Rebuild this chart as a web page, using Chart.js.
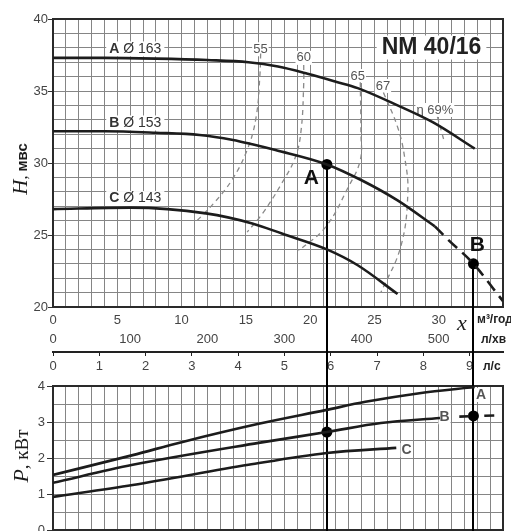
<!DOCTYPE html>
<html><head><meta charset="utf-8">
<script src="https://cdn.jsdelivr.net/npm/chart.js@4/dist/chart.umd.min.js"></script>
<style>
html,body{margin:0;padding:0;background:#fff;}
#wrap{position:relative;width:511px;height:531px;overflow:hidden;background:#fff;}
#c1{position:absolute;left:0;top:0;width:511px;height:380px;}
#c2{position:absolute;left:0;top:370px;width:511px;height:170px;}
</style></head><body>
<div id="wrap"><canvas id="c1" width="511" height="380"></canvas><canvas id="c2" width="511" height="170"></canvas></div>
<script>
// ---------------- DATA ----------------
// Flow in m³/h, head in m (мвс), power in kW
const flowA = [0, 4, 8, 12, 15.2, 17.5, 19.8, 22, 23.7, 26.8, 29.6, 32.8];
const headA = [37.3, 37.3, 37.25, 37.15, 37.0, 36.7, 36.2, 35.65, 35.2, 34.0, 32.8, 31.0];
const flowB = [0, 4, 8, 11.4, 14, 15.5, 17.3, 21.3, 24, 26.8, 29.7];
const headB = [32.2, 32.2, 32.1, 31.95, 31.6, 31.3, 30.9, 29.9, 28.8, 27.4, 25.6];
const flowBext = [29.7, 30.7, 32.7, 35];
const headBext = [25.6, 24.7, 23.0, 20.4];
const flowC = [0, 6, 11.9, 15.5, 17.8, 21.3, 23.7, 26.8];
const headC = [26.8, 26.9, 26.5, 25.8, 25.1, 24.0, 22.9, 20.9];

const effLevels = ['55', '60', '65', '67', 'η 69%'];
const eff55Q = [16.15, 16.1, 15.8, 15.1, 13.9, 12.5, 11.1];
const eff55H = [37.6, 36.2, 33.2, 30.9, 28.8, 27.2, 25.9];
const eff60Q = [19.5, 19.5, 19.3, 18.85, 17.8, 16.3, 15.1];
const eff60H = [36.8, 35.5, 32.3, 30.4, 28.6, 26.5, 25.2];
const eff65Q = [23.9, 23.95, 23.9, 22.95, 21.2, 19.1];
const eff65H = [35.6, 32.1, 30.2, 28.3, 25.55, 23.9];
const eff67Q = [25.7, 26.8, 27.35, 27.6, 27.05, 25.5];
const eff67H = [34.9, 32.5, 30.4, 27.9, 24.2, 21.0];
const eff69Q = [29.9, 30.4];
const eff69H = [33.2, 31.6];

const powerAQ = [0, 6.2, 10, 16, 21.2, 24.3, 28.5, 32.8];
const powerA  = [1.53, 2.08, 2.44, 2.95, 3.33, 3.56, 3.8, 3.97];
const powerBQ = [0, 6.2, 16, 21.3, 25.5, 30.1];
const powerB  = [1.31, 1.81, 2.42, 2.72, 2.97, 3.11];
const powerBextQ = [31.6, 35];
const powerBext  = [3.15, 3.19];
const powerCQ = [0, 6.2, 15.2, 21.3, 26.7];
const powerC  = [0.92, 1.25, 1.81, 2.14, 2.28];

// operating points A and B
const opNames = ['A', 'B'];
const opQ = [21.3, 32.7];
const opH = [29.9, 23.0];
const opP = [2.72, 3.17];

const curveNames = ['A', 'B', 'C'];
const curveDiam = ['Ø 163', 'Ø 153', 'Ø 143'];
const pumpTitle = 'NM 40/16';

// tick labels
const flowTicks = [0, 5, 10, 15, 20, 25, 30];
const lpmTicks = [0, 100, 200, 300, 400, 500];
const lpsTicks = [0, 1, 2, 3, 4, 5, 6, 7, 8, 9];
const headTicks = [20, 25, 30, 35, 40];
const powerTicks = [0, 1, 2, 3, 4];

// ---------------- helpers ----------------
const FLOW_MAX = 35;
const pts = (xs, ys) => xs.map((x, i) => ({x, y: ys[i]}));
const range = (a, b, s) => { const r = []; for (let v = a; v <= b + 1e-9; v += s) r.push(+v.toFixed(3)); return r; };
const SANS = "'Liberation Sans', Arial, sans-serif";
const SERIF = "'Liberation Serif', 'Times New Roman', serif";
const GRID = '#858585';
const INK = '#1c1c1c';
const TICKC = '#444';

function curve(data, extra) {
  return Object.assign({data, borderColor: INK, borderWidth: 2.6, cubicInterpolationMode: 'monotone', pointRadius: 0, fill: false}, extra || {});
}
function effCurve(data) {
  return {data, borderColor: '#8a8a8a', borderWidth: 1.3, borderDash: [5, 4], tension: 0.4, pointRadius: 0, fill: false};
}
function boxedText(ctx, parts, cx, cy, pad) {
  let w = 0;
  parts.forEach(p => { ctx.font = p.font; p.w = ctx.measureText(p.text).width; w += p.w; });
  const h = parts[0].h || 14;
  ctx.fillStyle = '#fff';
  ctx.fillRect(cx - w / 2 - pad, cy - h / 2 - 1, w + pad * 2, h + 2);
  let xx = cx - w / 2;
  ctx.textBaseline = 'middle'; ctx.textAlign = 'left';
  parts.forEach(p => { ctx.font = p.font; ctx.fillStyle = p.color || INK; ctx.fillText(p.text, xx, cy); xx += p.w; });
}
function rotatedTitle(ctx, cx, cy, parts) {
  ctx.save(); ctx.translate(cx, cy); ctx.rotate(-Math.PI / 2);
  let total = 0;
  parts.forEach(p => { ctx.font = p.font; p.w = ctx.measureText(p.text).width; total += p.w; });
  let xx = -total / 2;
  ctx.textBaseline = 'alphabetic'; ctx.textAlign = 'left';
  parts.forEach(p => { ctx.font = p.font; ctx.fillStyle = p.color || INK; ctx.fillText(p.text, xx, 7); xx += p.w; });
  ctx.restore();
}

// ---------------- TOP CHART: H(Q) ----------------
const topOverlay = {
  id: 'topOverlay',
  beforeDatasetsDraw(chart) {
    const {ctx, chartArea: a, scales: {x, y}} = chart;
    ctx.save();
    ctx.strokeStyle = '#2a2a2a'; ctx.lineWidth = 2;
    ctx.strokeRect(a.left, a.top, a.right - a.left, a.bottom - a.top);
    const lq = [6.4, 6.4, 6.4], lh = [37.92, 32.78, 27.53];
    curveNames.forEach((n, i) => {
      boxedText(ctx, [{text: n + ' ', font: 'bold 14px ' + SANS, color: '#333', h: 13},
                      {text: curveDiam[i], font: '14px ' + SANS, color: '#333'}],
                x.getPixelForValue(lq[i]), y.getPixelForValue(lh[i]), 3);
    });
    const eq = [16.13, 19.5, 23.7, 25.66, 29.7], eh = [37.9, 37.3, 36.04, 35.35, 33.68];
    effLevels.forEach((t, i) => {
      boxedText(ctx, [{text: t, font: '13px ' + SANS, color: '#555', h: 12}],
                x.getPixelForValue(eq[i]), y.getPixelForValue(eh[i]), 1);
    });
    boxedText(ctx, [{text: pumpTitle, font: 'bold 23px ' + SANS, color: '#222', h: 22}],
              x.getPixelForValue(29.44), y.getPixelForValue(38.02), 5);
    ctx.strokeStyle = '#000'; ctx.lineWidth = 2;
    opQ.forEach((q, i) => {
      const px = Math.round(x.getPixelForValue(q));
      ctx.beginPath(); ctx.moveTo(px, y.getPixelForValue(opH[i])); ctx.lineTo(px, chart.height); ctx.stroke();
    });
    ctx.restore();
  },
  afterDraw(chart) {
    const {ctx, scales: {x, y}} = chart;
    ctx.save();
    const lq = [20.1, 33.0], lh = [28.96, 24.3];
    ctx.font = 'bold 21px ' + SANS; ctx.fillStyle = '#111'; ctx.textAlign = 'center'; ctx.textBaseline = 'middle';
    opNames.forEach((n, i) => ctx.fillText(n, x.getPixelForValue(lq[i]), y.getPixelForValue(lh[i])));
    ctx.font = 'bold 12px ' + SANS; ctx.fillStyle = '#222'; ctx.textAlign = 'left';
    ctx.fillText('м³/год', 477, 320);
    ctx.fillText('л/хв', 481, 340);
    ctx.fillText('л/с', 483, 367);
    ctx.font = 'italic 22px ' + SERIF; ctx.fillStyle = '#222'; ctx.textAlign = 'center';
    ctx.fillText('x', 462, 324);
    rotatedTitle(ctx, 20, 169, [
      {text: 'H', font: 'italic 21px ' + SERIF},
      {text: ', ', font: '16px ' + SERIF},
      {text: 'мвс', font: 'bold 15px ' + SANS}
    ]);
    ctx.restore();
  }
};

new Chart(document.getElementById('c1'), {
  type: 'line',
  data: {datasets: [
    curve(pts(flowA, headA)),
    curve(pts(flowB, headB)),
    curve(pts(flowBext, headBext), {borderDash: [12, 7]}),
    curve(pts(flowC, headC)),
    effCurve(pts(eff55Q, eff55H)),
    effCurve(pts(eff60Q, eff60H)),
    effCurve(pts(eff65Q, eff65H)),
    effCurve(pts(eff67Q, eff67H)),
    effCurve(pts(eff69Q, eff69H)),
    {type: 'scatter', data: pts(opQ, opH), pointRadius: 5.5, pointBackgroundColor: '#000', pointBorderWidth: 0, backgroundColor: '#000'}
  ]},
  options: {
    responsive: false, animation: false, devicePixelRatio: 1,
    layout: {padding: {left: 0, top: 19, right: 8, bottom: 0}},
    plugins: {legend: {display: false}, tooltip: {enabled: false}},
    scales: {
      x: {
        type: 'linear', min: 0, max: FLOW_MAX, position: 'bottom', weight: 0,
        afterBuildTicks: s => { s.ticks = range(0, FLOW_MAX, 1).map(v => ({value: v})); },
        afterFit: s => { s.height = 23; s.paddingLeft = 0; s.paddingRight = 0; },
        grid: {color: GRID, lineWidth: 1, drawTicks: false},
        border: {display: false},
        ticks: {autoSkip: false, maxRotation: 0, padding: 6, color: TICKC, font: {size: 13, family: SANS},
                callback: v => flowTicks.includes(v) ? String(v) : ''}
      },
      x2: {
        type: 'linear', min: 0, max: FLOW_MAX * 1000 / 60, position: 'bottom', weight: 1,
        afterBuildTicks: s => { s.ticks = lpmTicks.map(v => ({value: v})); },
        afterFit: s => { s.height = 22; s.paddingLeft = 0; s.paddingRight = 0; },
        grid: {display: false, drawOnChartArea: false, drawTicks: false},
        border: {display: false},
        ticks: {autoSkip: false, maxRotation: 0, padding: 2, color: TICKC, font: {size: 13, family: SANS}}
      },
      x3: {
        type: 'linear', min: 0, max: FLOW_MAX / 3.6, position: 'bottom', weight: 2,
        afterBuildTicks: s => { s.ticks = lpsTicks.map(v => ({value: v})); },
        afterFit: s => { s.height = 28; s.paddingLeft = 0; s.paddingRight = 0; },
        grid: {display: true, drawOnChartArea: false, drawTicks: true, tickLength: 4, color: '#222', lineWidth: 1},
        border: {display: true, color: '#222', width: 2},
        ticks: {autoSkip: false, maxRotation: 0, padding: 3, color: TICKC, font: {size: 13, family: SANS}}
      },
      y: {
        type: 'linear', min: 20, max: 40, position: 'left',
        afterBuildTicks: s => { s.ticks = range(20, 40, 1).map(v => ({value: v})); },
        afterFit: s => { s.width = 53; s.paddingTop = 0; s.paddingBottom = 0; },
        grid: {color: GRID, lineWidth: 1, drawTicks: true, tickLength: 5,
               tickColor: c => (c.tick && headTicks.includes(c.tick.value)) ? '#333' : 'rgba(0,0,0,0)'},
        border: {display: false},
        ticks: {autoSkip: false, padding: 0, color: TICKC, font: {size: 13, family: SANS},
                callback: v => headTicks.includes(v) ? String(v) : ''}
      }
    }
  },
  plugins: [topOverlay]
});

// ---------------- BOTTOM CHART: P(Q) ----------------
const botOverlay = {
  id: 'botOverlay',
  beforeDatasetsDraw(chart) {
    const {ctx, chartArea: a, scales: {x, y}} = chart;
    ctx.save();
    ctx.strokeStyle = '#2a2a2a'; ctx.lineWidth = 2;
    ctx.strokeRect(a.left, a.top, a.right - a.left, a.bottom - a.top);
    const lq = [33.3, 30.45, 27.5], lp = [3.75, 3.13, 2.22];
    curveNames.forEach((n, i) => {
      boxedText(ctx, [{text: n, font: 'bold 14px ' + SANS, color: '#555', h: 12}],
                x.getPixelForValue(lq[i]), y.getPixelForValue(lp[i]), 1);
    });
    ctx.strokeStyle = '#000'; ctx.lineWidth = 2;
    opQ.forEach(q => {
      const px = Math.round(x.getPixelForValue(q));
      ctx.beginPath(); ctx.moveTo(px, 0); ctx.lineTo(px, chart.height); ctx.stroke();
    });
    ctx.restore();
  },
  afterDraw(chart) {
    const {ctx} = chart;
    ctx.save();
    rotatedTitle(ctx, 21, 86, [
      {text: 'P', font: 'italic 22px ' + SERIF},
      {text: ', кВт', font: '19px ' + SERIF}
    ]);
    ctx.restore();
  }
};

new Chart(document.getElementById('c2'), {
  type: 'line',
  data: {datasets: [
    curve(pts(powerAQ, powerA)),
    curve(pts(powerBQ, powerB)),
    curve(pts(powerBextQ, powerBext), {borderDash: [10, 15], cubicInterpolationMode: 'default', tension: 0}),
    curve(pts(powerCQ, powerC)),
    {type: 'scatter', data: pts(opQ, opP), pointRadius: 5.5, pointBackgroundColor: '#000', pointBorderWidth: 0, backgroundColor: '#000'}
  ]},
  options: {
    responsive: false, animation: false, devicePixelRatio: 1,
    layout: {padding: {left: 0, top: 16, right: 8, bottom: 10}},
    plugins: {legend: {display: false}, tooltip: {enabled: false}},
    scales: {
      x: {
        type: 'linear', min: 0, max: FLOW_MAX, position: 'bottom',
        afterBuildTicks: s => { s.ticks = range(0, FLOW_MAX, 1).map(v => ({value: v})); },
        afterFit: s => { s.height = 0; s.paddingLeft = 0; s.paddingRight = 0; },
        grid: {color: GRID, lineWidth: 1, drawTicks: false},
        border: {display: false},
        ticks: {display: false}
      },
      y: {
        type: 'linear', min: 0, max: 4, position: 'left',
        afterBuildTicks: s => { s.ticks = range(0, 4, 0.5).map(v => ({value: v})); },
        afterFit: s => { s.width = 53; s.paddingTop = 0; s.paddingBottom = 0; },
        grid: {color: GRID, lineWidth: 1, drawTicks: true, tickLength: 6,
               tickColor: c => (c.tick && powerTicks.includes(c.tick.value)) ? '#333' : 'rgba(0,0,0,0)'},
        border: {display: false},
        ticks: {autoSkip: false, padding: 2, color: TICKC, font: {size: 13, family: SANS},
                callback: v => powerTicks.includes(v) ? String(v) : ''}
      }
    }
  },
  plugins: [botOverlay]
});
</script>
</body></html>
